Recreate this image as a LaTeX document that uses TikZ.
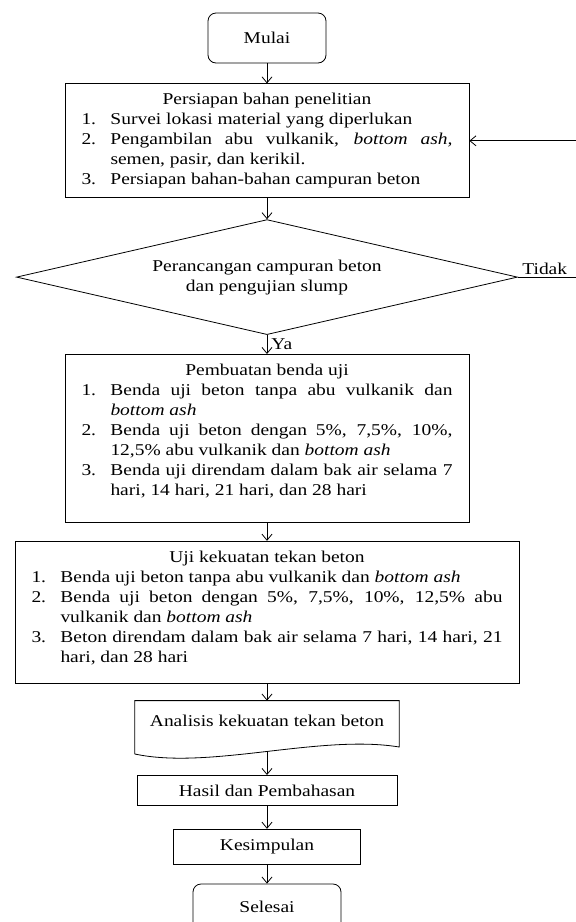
\documentclass[tikz,border=0pt]{standalone}
\usepackage{fontspec}
\setmainfont{Liberation Serif}[FakeStretch = 1.18]
\usepackage{tikz}
\usetikzlibrary{positioning, shapes.geometric, arrows.meta}
\newcommand{\butir}[2]{\par\hangindent = 29pt\hangafter = 1\noindent\makebox[29pt][l]{#1.}#2\par}
\newcommand{\judul}[1]{{\centering\strut #1\par}}
\newcommand{\dasar}[1]{\rule[-#1]{0pt}{#1}}
\tikzset{
	kotak/.style = {draw, line width = 0.8pt, inner xsep = 16.5pt, inner ysep = 7pt, align = justify},
	terminal/.style = {draw, line width = 0.8pt, rounded corners = 8pt, align = center},
	proses/.style = {draw, line width = 0.8pt, align = center},
	keputusan/.style = {draw, line width = 0.8pt, diamond, aspect = 4.36, inner sep = 0pt, minimum width = 501pt, minimum height = 115pt, align = center},
	dokumen/.style = {inner sep = 0pt, minimum width = 264pt, minimum height = 41pt},
	panah/.style = {-{Straight Barb[length = 6pt, width = 10pt]}, line width = 0.8pt}
}

\begin{document}
\begin{tikzpicture}[x = 1pt, y = -1pt, font = \fontsize{16.5}{20}\selectfont]
	\useasboundingbox (0,0) rectangle (576,922);
	\node[terminal, minimum width = 118pt, minimum height = 50pt] (mulai) at (267,38) {Mulai};
	\node[kotak, text width = 371pt, below = 20pt of mulai] (siap){\judul{Persiapan bahan penelitian}
		\butir{1}{Survei lokasi material yang diperlukan}
		\butir{2}{Pengambilan abu vulkanik, \textit{bottom ash,}\linebreak semen, pasir, dan kerikil.}
		\butir{3}{Persiapan bahan-bahan campuran beton\dasar{6pt}}};
	\node[keputusan, below = 21pt of siap] (rancang){Perancangan campuran beton\\dan pengujian slump};
	\node[kotak, text width = 371pt, below = 19pt of rancang] (buat){\judul{Pembuatan benda uji}
		\butir{1}{Benda uji beton tanpa abu vulkanik dan\linebreak \textit{bottom ash}}
		\butir{2}{Benda uji beton dengan 5\%, 7,5\%, 10\%,\linebreak 12,5\% abu vulkanik dan \textit{bottom ash}}
		\butir{3}{Benda uji direndam dalam bak air selama 7\linebreak hari, 14 hari, 21 hari, dan 28 hari\dasar{20pt}}};
	\node[kotak, text width = 471pt, below = 18pt of buat] (uji){\judul{Uji kekuatan tekan beton}
		\butir{1}{Benda uji beton tanpa abu vulkanik dan \textit{bottom ash}}
		\butir{2}{Benda uji beton dengan 5\%, 7,5\%, 10\%, 12,5\% abu\linebreak vulkanik dan \textit{bottom ash}}
		\butir{3}{Beton direndam dalam bak air selama 7 hari, 14 hari, 21\linebreak hari, dan 28 hari\dasar{14pt}}};
	\node[dokumen, below = 17pt of uji] (analisis){Analisis kekuatan tekan beton};
	\draw[line width = 0.8pt] ([yshift = -12pt]analisis.south west) -- (analisis.north west) -- (analisis.north east) -- ([yshift = -5pt]analisis.south east) .. controls +(-79pt,13pt) and +(75pt,-16pt) .. ([yshift = -12pt]analisis.south west);
	\node[proses, minimum width = 260pt, minimum height = 30pt, below = 33pt of analisis] (hasil){Hasil dan Pembahasan};
	\node[proses, minimum width = 187pt, minimum height = 35pt, below = 23pt of hasil] (simpul){Kesimpulan};
	\node[terminal, minimum width = 148pt, minimum height = 46pt, below = 19pt of simpul] (selesai){Selesai};
	\draw[panah] (mulai) -- (siap);
	\draw[panah] (siap) -- (rancang);
	\draw[panah] (rancang) -- node[right, inner sep = 4pt]{Ya} (buat);
	\draw[panah] (rancang.east) -- ++(61,0) node[pos = 0.44, above, inner sep = 2pt]{Tidak} |- (siap.east);
	\draw[panah] (buat) -- (uji);
	\draw[panah] (uji) -- (analisis);
	\draw[panah] ([yshift = -10pt]analisis.south) -- (hasil);
	\draw[panah] (hasil) -- (simpul);
	\draw[panah] (simpul) -- (selesai);
\end{tikzpicture}
\end{document}
